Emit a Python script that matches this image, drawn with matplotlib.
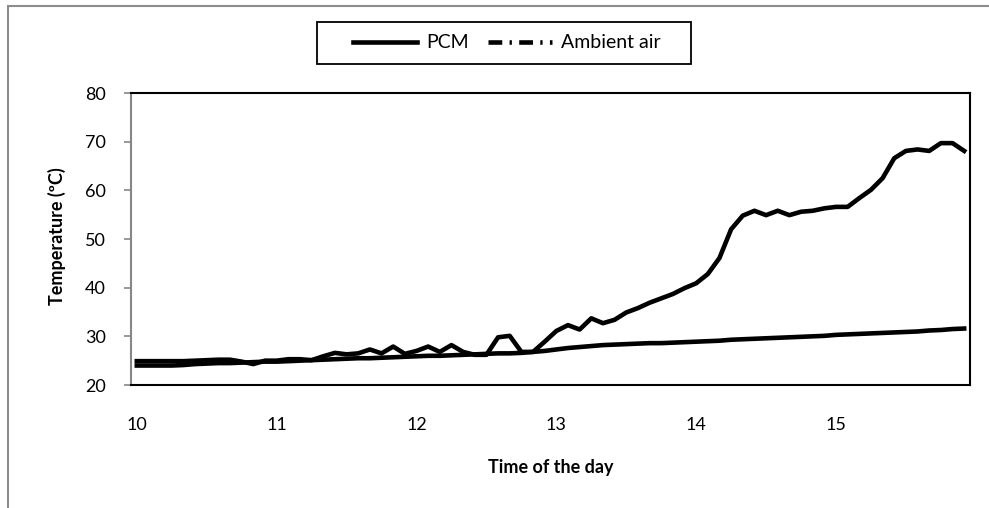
import numpy as np
import matplotlib
matplotlib.use("Agg")
import matplotlib.pyplot as plt
from matplotlib.lines import Line2D
from matplotlib.patches import Rectangle

plt.rcParams['font.family'] = ['Lato', 'DejaVu Sans']

# readings every 5 minutes from 10:00 to 15:55
time_hours = 10 + np.arange(72) * 5 / 60.0

pcm = [24.9, 24.9, 24.9, 24.9, 24.9, 25.0, 25.1, 25.2, 25.2, 24.8,
       24.3, 25.0, 25.0, 25.3, 25.3, 25.1, 25.9, 26.6, 26.3, 26.5,
       27.3, 26.5, 27.9, 26.4, 27.0, 27.9, 26.8, 28.2, 26.8, 26.2,
       26.2, 29.8, 30.1, 26.8, 26.8, 28.9, 31.1, 32.3, 31.4, 33.7,
       32.7, 33.4, 34.9, 35.8, 36.9, 37.8, 38.7, 39.9, 40.9, 42.8,
       46.1, 52.0, 54.8, 55.8, 54.9, 55.8, 54.9, 55.6, 55.8, 56.3,
       56.6, 56.6, 58.4, 60.1, 62.5, 66.6, 68.1, 68.4, 68.1, 69.7,
       69.7, 68.1]

ambient = [24.0, 24.0, 24.0, 24.0, 24.1, 24.3, 24.4, 24.5, 24.5, 24.6,
           24.7, 24.8, 24.8, 24.9, 25.0, 25.1, 25.2, 25.3, 25.4, 25.5,
           25.5, 25.6, 25.7, 25.8, 25.9, 26.0, 26.0, 26.1, 26.2, 26.3,
           26.4, 26.5, 26.5, 26.6, 26.8, 27.0, 27.3, 27.6, 27.8, 28.0,
           28.2, 28.3, 28.4, 28.5, 28.6, 28.6, 28.7, 28.8, 28.9, 29.0,
           29.1, 29.3, 29.4, 29.5, 29.6, 29.7, 29.8, 29.9, 30.0, 30.1,
           30.3, 30.4, 30.5, 30.6, 30.7, 30.8, 30.9, 31.0, 31.2, 31.3,
           31.5, 31.6]

x_ticks = [10, 11, 12, 13, 14, 15]
y_ticks = [20, 30, 40, 50, 60, 70, 80]

W, H = 989, 508
fig = plt.figure(figsize=(W / 100, H / 100), dpi=100)

# outer chart frame (cut off at right and bottom)
fig.patches.append(Rectangle((8 / W, -0.1), 1.2, 1 - 6 / H + 0.1, transform=fig.transFigure,
                             fill=False, edgecolor='#8c8c8c', linewidth=1.5))
# legend frame drawn by hand, it is wider than tall
fig.patches.append(Rectangle((317 / W, 1 - 64 / H), (691 - 317) / W, 42 / H,
                             transform=fig.transFigure, fill=False,
                             edgecolor='black', linewidth=1.3))

ax = fig.add_axes([131 / W, 1 - 385 / H, (970 - 131) / W, (385 - 93) / H])

ax.plot(time_hours, pcm, color='black', lw=3.3, solid_joinstyle='round')
ax.plot(time_hours, ambient, color='black', lw=3.3, solid_joinstyle='round')

ax.set_xlim(10 - 0.5 / 12, 10 + 71.5 / 12)
ax.set_ylim(20, 80)
ax.set_yticks(y_ticks)
ax.set_yticklabels([str(v) for v in y_ticks])
ax.set_xticks(x_ticks)
ax.set_xticklabels([str(v) for v in x_ticks])

ax.tick_params(axis='x', length=0, pad=23, labelsize=13, colors='black')
ax.tick_params(axis='y', length=5, width=1.2, color='#868686', pad=13, labelsize=13)

for side in ['top', 'right', 'bottom']:
    ax.spines[side].set_color('black')
    ax.spines[side].set_linewidth(1.5)
ax.spines['left'].set_color('#868686')
ax.spines['left'].set_linewidth(1.5)

fig.text(57 / W, 1 - 236 / H, 'Temperature (ºC)', rotation=90, ha='center', va='center',
         fontsize=13, fontweight='bold')
fig.text(551 / W, 1 - 468 / H, 'Time of the day', ha='center', va='center',
         fontsize=13, fontweight='bold')

handles = [Line2D([], [], color='black', lw=3.3),
           Line2D([], [], color='black', lw=3.3, linestyle=(0, (3.0, 1.6, 0.5, 1.6)))]
leg = fig.legend(handles, ['PCM', 'Ambient air'], loc='center',
                 bbox_to_anchor=(507 / W, 1 - 43 / H), ncol=2, frameon=False,
                 fontsize=14, handlelength=3.3, handletextpad=0.45,
                 columnspacing=1.0, borderpad=0, borderaxespad=0)

fig.savefig('out.png', dpi=100)
